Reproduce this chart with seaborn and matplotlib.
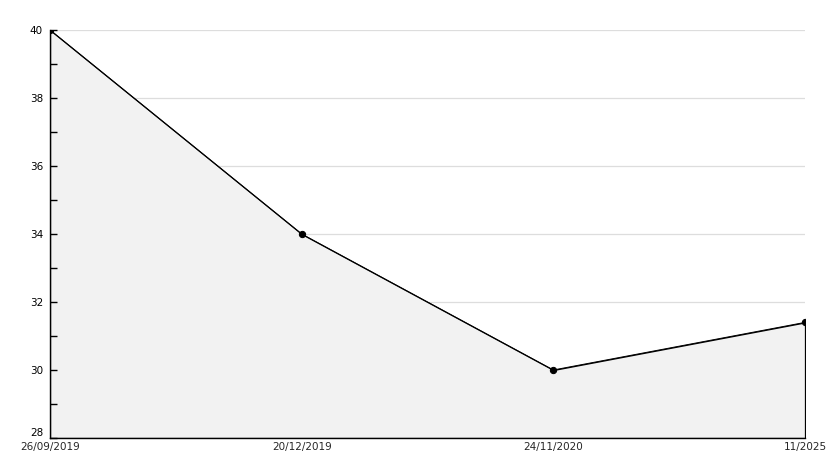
import numpy as np
import pandas as pd
import matplotlib
matplotlib.use('Agg')
import matplotlib.pyplot as plt
from matplotlib.ticker import MultipleLocator, FuncFormatter
import seaborn as sns

# data
dates = ['26/09/2019', '20/12/2019', '24/11/2020', '11/2025']
values = [40, 34, 30, 31.4]

df = pd.DataFrame({'date': dates, 'value': values, 'pos': range(len(dates))})

sns.set_style('white')
plt.rcParams['font.family'] = ['DejaVu Sans']

fig = plt.figure(figsize=(8.34, 4.68), dpi=100)
ax = fig.add_axes([50/834, 30/468, 755/834, 408/468])

ax.fill_between(df['pos'], df['value'], 28, color='#f2f2f2', edgecolor='black',
                linewidth=0.9, zorder=1)
sns.lineplot(data=df, x='pos', y='value', ax=ax, color='black', linewidth=0.7,
             marker='o', markersize=4.5, markeredgecolor='black', zorder=3)

ax.set_xlim(0, len(dates) - 1)
ax.set_ylim(28, 40)
# one tick every unit, label only the even ones
ax.yaxis.set_major_locator(MultipleLocator(1))
ax.yaxis.set_major_formatter(FuncFormatter(
    lambda v, p: '%d' % v if round(v) % 2 == 0 else ''))
ax.set_xticks(df['pos'])
ax.set_xticklabels(dates)

# grid under the fill, ticks above it
ax.grid(False)
ax.set_axisbelow(False)
for y in np.arange(30, 41, 2):
    ax.axhline(y, color='#dddddd', linewidth=0.9, zorder=0.5)

ax.tick_params(axis='y', which='major', direction='in', length=5, width=1,
               left=True, labelsize=7.5, pad=5, colors='black')
ax.tick_params(axis='x', length=0, labelsize=7.5, pad=3)
ax.set_xlabel('')
ax.set_ylabel('')

for s in ['top', 'right']:
    ax.spines[s].set_visible(False)
for s in ['left', 'bottom']:
    ax.spines[s].set_color('black')
    ax.spines[s].set_linewidth(1.0)

fig.canvas.draw()
for lab in ax.get_yticklabels():
    if lab.get_text() == '28':
        lab.set_va('bottom')

fig.savefig('out.png', dpi=100)
